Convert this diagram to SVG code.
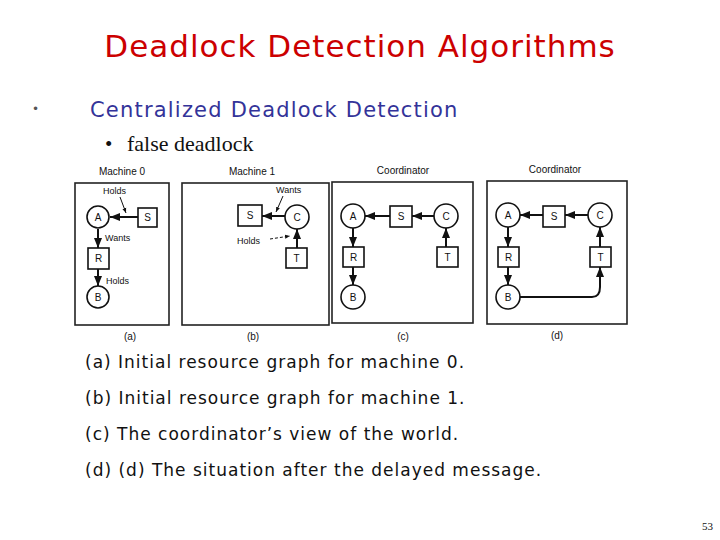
<svg xmlns="http://www.w3.org/2000/svg" width="720" height="540" viewBox="0 0 720 540">
<defs>
<marker id="ah" viewBox="0 0 10 10" refX="10" refY="5" markerWidth="5" markerHeight="5" orient="auto"><path d="M0,1 L10,5 L0,9 z" fill="#111"/></marker>
<style>
.box{fill:#fff;stroke:#222;stroke-width:1.6}
.n{fill:#fff;stroke:#111;stroke-width:1.6}
.e{stroke:#111;stroke-width:2;fill:none;marker-end:url(#ah)}
.p{stroke:#111;stroke-width:1;fill:none;marker-end:url(#ah)}
.t{font-family:"Liberation Sans",Arial,sans-serif;font-size:10px;fill:#111;text-anchor:middle}
.l{font-family:"Liberation Sans",Arial,sans-serif;font-size:9px;fill:#111}
.cap{font-family:"DejaVu Sans",sans-serif;font-size:17px;fill:#111;letter-spacing:1px}
</style>
</defs>
<rect width="720" height="540" fill="#fff"/>
<text x="360" y="57" font-family="DejaVu Sans,sans-serif" font-size="31" fill="#cc0000" text-anchor="middle" letter-spacing="1">Deadlock Detection Algorithms</text>
<text x="32" y="113" font-family="DejaVu Sans,sans-serif" font-size="12" fill="#555">•</text>
<text x="90" y="117" font-family="DejaVu Sans,sans-serif" font-size="21" fill="#333399" letter-spacing="1.2">Centralized Deadlock Detection</text>
<text x="105" y="151" font-family="Liberation Serif,serif" font-size="21" fill="#111">•</text>
<text x="127" y="151" font-family="Liberation Serif,serif" font-size="22" fill="#111">false deadlock</text>
<g id="frames">
<rect class="box" x="75" y="183" width="94" height="142"/>
<rect class="box" x="182" y="183" width="147" height="142"/>
<rect class="box" x="332" y="182" width="141" height="141"/>
<rect class="box" x="487" y="181" width="140" height="143"/>
<text class="t" x="122" y="175">Machine 0</text>
<text class="t" x="252" y="175">Machine 1</text>
<text class="t" x="403" y="174">Coordinator</text>
<text class="t" x="555" y="173">Coordinator</text>
<text class="t" x="130" y="340">(a)</text>
<text class="t" x="253" y="340">(b)</text>
<text class="t" x="403" y="340">(c)</text>
<text class="t" x="557" y="339">(d)</text>
</g>
<g id="connectors">
<path class="e" d="M138,217 L110,217"/><path class="e" d="M98,229 L98,248"/><path class="e" d="M98,269 L98,286"/>
<path class="p" d="M120,197 L126,213"/>
<path class="e" d="M285,216 L262,216"/><path class="e" d="M297,248 L297,229"/>
<path class="p" d="M283,196 L276,212"/><path class="p" d="M270,239 L290,236" stroke-dasharray="3,2"/>
<path class="e" d="M390,216 L365,216"/><path class="e" d="M434,216 L412,216"/><path class="e" d="M353,228 L353,247"/><path class="e" d="M353,267 L353,285"/><path class="e" d="M446,247 L446,228"/>
<path class="e" d="M543,215 L520,215"/><path class="e" d="M588,215 L565,215"/><path class="e" d="M508,227 L508,247"/><path class="e" d="M508,267 L508,285"/><path class="e" d="M600,247 L600,227"/>
<path class="e" d="M520,297 L592,297 Q600,297 600,287 L600,267"/>
</g>
<g id="labels">
<text class="l" x="103" y="194">Holds</text>
<text class="l" x="105" y="241">Wants</text>
<text class="l" x="106" y="284">Holds</text>
<text class="l" x="276" y="193">Wants</text>
<text class="l" x="237" y="244">Holds</text>
</g>
<g id="nodes-a">
<circle class="n" cx="98" cy="217" r="11"/><text class="t" x="98" y="221">A</text>
<rect class="n" x="138" y="208" width="19" height="19"/><text class="t" x="147.5" y="221">S</text>
<rect class="n" x="88" y="248" width="21" height="21"/><text class="t" x="98.5" y="262">R</text>
<circle class="n" cx="98" cy="297" r="11"/><text class="t" x="98" y="301">B</text>
</g>
<g id="nodes-b">
<rect class="n" x="238" y="205" width="24" height="21"/><text class="t" x="250" y="219">S</text>
<circle class="n" cx="297" cy="217" r="12"/><text class="t" x="297" y="221">C</text>
<rect class="n" x="286" y="248" width="21" height="20"/><text class="t" x="296.5" y="262">T</text>
</g>
<g id="nodes-c">
<circle class="n" cx="353" cy="216" r="12"/><text class="t" x="353" y="220">A</text>
<rect class="n" x="390" y="206" width="22" height="21"/><text class="t" x="401" y="220">S</text>
<circle class="n" cx="446" cy="216" r="12"/><text class="t" x="446" y="220">C</text>
<rect class="n" x="343" y="247" width="21" height="20"/><text class="t" x="353.5" y="261">R</text>
<circle class="n" cx="353" cy="297" r="12"/><text class="t" x="353" y="301">B</text>
<rect class="n" x="437" y="247" width="21" height="20"/><text class="t" x="447.5" y="261">T</text>
</g>
<g id="nodes-d">
<circle class="n" cx="508" cy="215" r="12"/><text class="t" x="508" y="219">A</text>
<rect class="n" x="543" y="206" width="22" height="21"/><text class="t" x="554" y="220">S</text>
<circle class="n" cx="600" cy="215" r="12"/><text class="t" x="600" y="219">C</text>
<rect class="n" x="498" y="247" width="21" height="20"/><text class="t" x="508.5" y="261">R</text>
<circle class="n" cx="508" cy="297" r="12"/><text class="t" x="508" y="301">B</text>
<rect class="n" x="590" y="247" width="21" height="20"/><text class="t" x="600.5" y="261">T</text>
</g>
<text class="cap" x="85" y="368">(a) Initial resource graph for machine 0.</text>
<text class="cap" x="85" y="404">(b) Initial resource graph for machine 1.</text>
<text class="cap" x="85" y="440">(c) The coordinator’s view of the world.</text>
<text class="cap" x="85" y="476">(d) (d) The situation after the delayed message.</text>
<text x="713" y="530" font-family="Liberation Serif,serif" font-size="11" fill="#111" text-anchor="end">53</text>
</svg>
